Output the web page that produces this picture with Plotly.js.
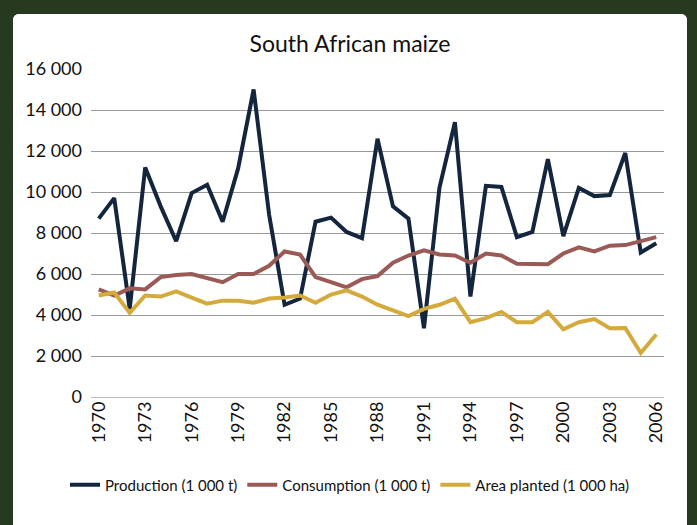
<!DOCTYPE html>
<html>
<head>
<meta charset="utf-8">
<script src="https://cdn.plot.ly/plotly-3.0.1.min.js"></script>
<style>
  html, body { margin: 0; padding: 0; background: #263a1f; width: 697px; height: 525px; overflow: hidden; }
  #chart { position: absolute; left: 13px; top: 14px; width: 674px; height: 511px; background: #fff; border-radius: 6px 6px 0 0; overflow: hidden; }
</style>
</head>
<body>
<div id="chart"></div>
<script>
// South African maize, 1970-2006
const years = Array.from({length: 37}, (_, i) => 1970 + i);

const production = [
    8700, 9700, 4300, 11200, 9300, 7600, 9950, 10350, 8550, 11150,
    15000, 8900, 4500, 4800, 8550, 8750, 8050, 7750, 12600, 9300,
    8700, 3350, 10200, 13400, 4900, 10300, 10250, 7800, 8050, 11600,
    7850, 10200, 9800, 9850, 11900, 7050, 7500
];

const consumption = [
    5250, 4950, 5300, 5250, 5850, 5950, 6000, 5800, 5600, 6000,
    6000, 6400, 7100, 6950, 5850, 5600, 5350, 5750, 5900, 6550,
    6900, 7150, 6950, 6900, 6550, 7000, 6900, 6500, 6480, 6480,
    7000, 7300, 7100, 7380, 7410, 7600, 7800
];

const areaPlanted = [
    4950, 5100, 4100, 4950, 4900, 5150, 4850, 4550, 4700, 4700,
    4600, 4800, 4850, 4950, 4600, 5000, 5200, 4900, 4500, 4250,
    3950, 4300, 4500, 4800, 3650, 3850, 4150, 3650, 3650, 4150,
    3300, 3650, 3800, 3350, 3370, 2150, 3050
];

const tickYears = [1970, 1973, 1976, 1979, 1982, 1985, 1988, 1991, 1994, 1997, 2000, 2003, 2006];

const seriesNames = ['Production (1 000 t)', 'Consumption (1 000 t)', 'Area planted (1 000 ha)'];
const seriesColors = ['#13263d', '#9a5a56', '#d4aa3c'];

const data = [production, consumption, areaPlanted].map((values, i) => ({
    x: years,
    y: values,
    type: 'scatter',
    mode: 'lines',
    name: seriesNames[i],
    line: { color: seriesColors[i], width: 4 },
    hoverinfo: 'x+y'
}));

const layout = {
    width: 674,
    height: 511,
    paper_bgcolor: '#ffffff',
    plot_bgcolor: '#ffffff',
    separators: '. ',
    font: { family: 'Lato, sans-serif', size: 18, color: '#111' },
    title: {
        text: 'South African maize',
        font: { family: 'Lato, sans-serif', size: 23, color: '#111' },
        x: 0.5, xanchor: 'center',
        yref: 'container',
        y: 1 - 30 / 511, yanchor: 'middle'
    },
    margin: { l: 78, r: 23, t: 55, b: 128 },
    xaxis: {
        range: [1969.5, 2006.5],
        tickvals: tickYears,
        ticktext: tickYears.map(String),
        tickangle: -90,
        showgrid: false,
        zeroline: false,
        showline: false,
        ticks: '',
        automargin: false,
        tickfont: { size: 18 },
        fixedrange: true
    },
    yaxis: {
        range: [0, 16000],
        dtick: 2000,
        tickformat: ',d',
        separatethousands: true,
        gridcolor: '#999999',
        gridwidth: 1,
        zeroline: true,
        zerolinecolor: '#bbbbbb',
        zerolinewidth: 1,
        showline: false,
        ticks: '',
        ticklabelstandoff: 8,
        automargin: false,
        tickfont: { size: 18 },
        fixedrange: true
    },
    showlegend: true,
    legend: {
        orientation: 'h',
        x: 0.5, xanchor: 'center',
        xref: 'container',
        yref: 'container',
        y: 1 - 471 / 511, yanchor: 'middle',
        font: { family: 'Lato, sans-serif', size: 15, color: '#111' },
        itemwidth: 30,
        tracegroupgap: 0
    }
};

Plotly.newPlot('chart', data, layout, { displayModeBar: false, responsive: false });
</script>
</body>
</html>
